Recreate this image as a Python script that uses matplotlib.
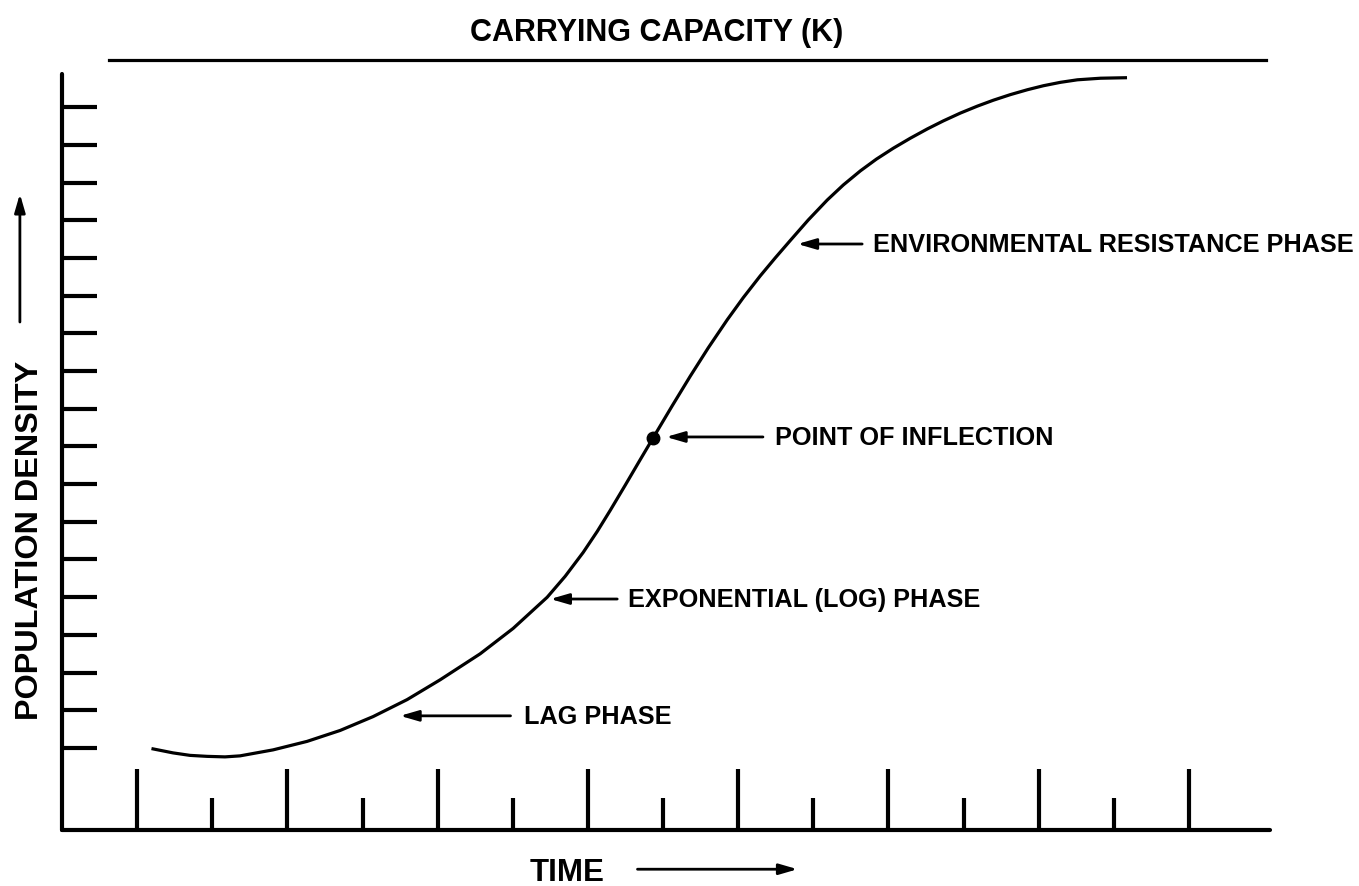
import matplotlib
matplotlib.use("Agg")
import matplotlib.pyplot as plt
from matplotlib.ticker import FixedLocator

plt.rcParams['font.family'] = ['Liberation Sans', 'DejaVu Sans']

# Growth curve (time units, density units)
time = [1.212, 1.478, 1.704, 1.931, 2.170, 2.370, 2.810, 3.262, 3.702, 4.141,
        4.594, 5.033, 5.566, 6.005, 6.458, 6.698, 6.937, 7.124, 7.297, 7.497,
        7.696, 7.870, 8.123, 8.362, 8.602, 8.855, 9.068, 9.294, 9.494, 9.694,
        9.933, 10.186, 10.399, 10.626, 10.839, 11.065, 11.292, 11.518, 11.731,
        11.957, 12.184, 12.397, 12.623, 12.850, 13.063, 13.289, 13.515, 13.822,
        14.154]
density = [0.973, 0.867, 0.801, 0.775, 0.761, 0.788, 0.947, 1.172, 1.462,
           1.830, 2.281, 2.806, 3.496, 4.170, 4.997, 5.554, 6.186, 6.743,
           7.302, 7.971, 8.647, 9.233, 10.080, 10.862, 11.615, 12.361, 12.947,
           13.525, 14.003, 14.464, 15.008, 15.538, 15.936, 16.310, 16.621,
           16.912, 17.178, 17.424, 17.637, 17.844, 18.029, 18.186, 18.334,
           18.464, 18.570, 18.660, 18.727, 18.769, 18.782]

carrying_capacity = 19.25
inflection = (7.870, 9.233)

major_time_ticks = [1, 3, 5, 7, 9, 11, 13, 15]
minor_time_ticks = [2, 4, 6, 8, 10, 12, 14]
density_ticks = list(range(1, 19))

# Phase labels: (text, arrow head, arrow tail, text start)
phases = [
    ("ENVIRONMENTAL RESISTANCE PHASE", (9.79, 14.37), (10.65, 14.37), 10.80),
    ("POINT OF INFLECTION", (8.04, 9.25), (9.33, 9.25), 9.49),
    ("EXPONENTIAL (LOG) PHASE", (6.50, 4.95), (7.39, 4.95), 7.54),
    ("LAG PHASE", (4.50, 1.85), (5.97, 1.85), 6.15),
]

fig = plt.figure(figsize=(13.59, 8.87), dpi=100)
ax = fig.add_axes([0.0456, 0.0631, 0.889, 0.8523])
ax.set_xlim(0, 16.08)
ax.set_ylim(-1.18, 18.88)

for side in ("top", "right"):
    ax.spines[side].set_visible(False)
for side in ("left", "bottom"):
    ax.spines[side].set_linewidth(3.0)
    ax.spines[side].set_capstyle("round")

ax.xaxis.set_major_locator(FixedLocator(major_time_ticks))
ax.xaxis.set_minor_locator(FixedLocator(minor_time_ticks))
ax.yaxis.set_major_locator(FixedLocator(density_ticks))
ax.tick_params(axis="x", which="major", direction="in", length=44, width=3.0,
               labelbottom=False)
ax.tick_params(axis="x", which="minor", direction="in", length=23, width=3.0,
               labelbottom=False)
ax.tick_params(axis="y", which="major", direction="in", length=25, width=3.0,
               labelleft=False)

# Logistic curve and its inflection point
ax.plot(time, density, color="black", lw=2.3, solid_joinstyle="round")
ax.plot(*inflection, "o", color="black", ms=9)

# Carrying capacity line above the plot
ax.plot([0.63, 16.02], [carrying_capacity, carrying_capacity], color="black",
        lw=2.3, clip_on=False)
ax.text(7.92, carrying_capacity + 0.75, "CARRYING CAPACITY (K)", ha="center",
        va="center", fontsize=22, fontweight="bold")

arrow_kw = dict(arrowstyle="-|>,head_length=1.1,head_width=0.32",
                color="black", lw=2.0, shrinkA=0, shrinkB=0)
for label, head, tail, tx in phases:
    ax.annotate("", xy=head, xytext=tail, arrowprops=arrow_kw)
    ax.text(tx, head[1], label, ha="left", va="center", fontsize=18.2,
            fontweight="bold")

# Axis titles with direction arrows
ax.text(6.72, -2.29, "TIME", ha="center", va="center", fontsize=22.5,
        fontweight="bold", clip_on=False)
ax.annotate("", xy=(9.79, -2.22), xytext=(7.66, -2.22), arrowprops=arrow_kw,
            annotation_clip=False)
ax.text(-0.43, 6.54, "POPULATION DENSITY", ha="center", va="center",
        rotation=90, fontsize=23.3, fontweight="bold", clip_on=False)
ax.annotate("", xy=(-0.56, 15.7), xytext=(-0.56, 12.3), arrowprops=arrow_kw,
            annotation_clip=False)

fig.savefig("out.png", dpi=100)
